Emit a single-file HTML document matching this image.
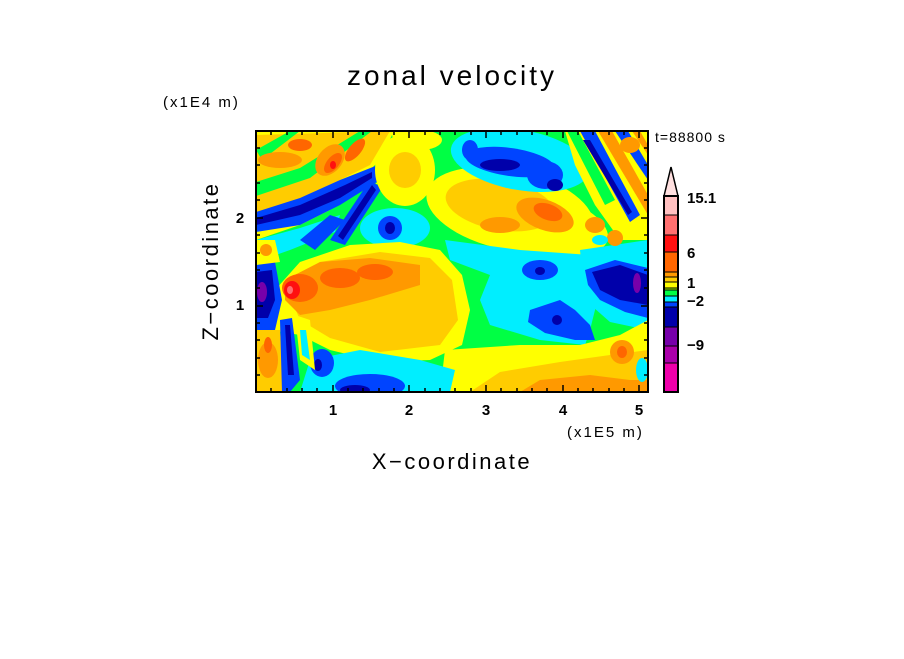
<!DOCTYPE html>
<html><head><style>
body{margin:0;background:#fff;width:904px;height:654px;overflow:hidden;font-family:"Liberation Sans",sans-serif}
</style></head><body>
<svg width="904" height="654" xmlns="http://www.w3.org/2000/svg" font-family="Liberation Sans, sans-serif">
<defs>
<clipPath id="c"><rect x="256" y="131" width="392" height="261"/></clipPath>
</defs>
<g clip-path="url(#c)">
<rect x="256" y="131" width="392" height="261" fill="#00ff44"/>
<!-- top-left warm band -->
<path d="M256 131 L420 131 L400 170 L350 200 L300 225 L256 240 Z" fill="#ffff00"/>
<path d="M256 135 L390 131 L370 165 L320 190 L270 210 L256 215 Z" fill="#ffcc00"/>
<path d="M256 182 L300 168 L360 131 L372 131 L310 178 L256 196 Z" fill="#00ff44"/>
<path d="M256 150 L290 131 L300 131 L262 160 Z" fill="#00ff44"/>
<path d="M330 210 L380 160 L392 135 L396 150 L385 175 L345 212 Z" fill="#00ff44"/>
<ellipse cx="280" cy="160" rx="22" ry="8" fill="#ff9900"/>
<ellipse cx="330" cy="160" rx="12" ry="18" transform="rotate(40 330 160)" fill="#ff9900"/>
<ellipse cx="333" cy="163" rx="6" ry="12" transform="rotate(40 333 163)" fill="#ff6600"/>
<ellipse cx="355" cy="150" rx="6" ry="14" transform="rotate(40 355 150)" fill="#ff6600"/>
<ellipse cx="300" cy="145" rx="12" ry="6" fill="#ff6600"/>
<ellipse cx="333" cy="165" rx="3" ry="4" fill="#ff1010"/>
<!-- diagonal blue bands top-left -->
<path d="M256 212 L300 198 L340 180 L378 165 L380 180 L340 205 L300 225 L256 232 Z" fill="#0044ff"/>
<path d="M256 218 L300 205 L345 185 L372 172 L372 178 L340 198 L300 215 L256 225 Z" fill="#0000aa"/>
<path d="M330 240 L370 180 L382 188 L345 245 Z" fill="#0044ff"/>
<path d="M338 236 L372 185 L376 190 L343 240 Z" fill="#0000aa"/>
<path d="M256 240 L300 228 L340 215 L335 232 L290 250 L256 262 Z" fill="#00eeff"/>
<path d="M300 240 L330 215 L345 220 L315 250 Z" fill="#0044ff"/>
<!-- cyan around blue dot -->
<ellipse cx="395" cy="228" rx="35" ry="20" fill="#00eeff"/>
<ellipse cx="390" cy="228" rx="12" ry="12" fill="#0044ff"/>
<ellipse cx="390" cy="228" rx="5" ry="6" fill="#0000aa"/>
<!-- top center yellow -->
<ellipse cx="405" cy="170" rx="30" ry="36" fill="#ffff00"/>
<ellipse cx="405" cy="170" rx="16" ry="18" fill="#ffcc00"/>
<ellipse cx="420" cy="140" rx="22" ry="10" fill="#ffff00"/>
<!-- right upper yellow band -->
<ellipse cx="510" cy="210" rx="85" ry="40" transform="rotate(12 510 210)" fill="#ffff00"/>
<ellipse cx="540" cy="222" rx="70" ry="30" transform="rotate(15 540 222)" fill="#ffff00"/>
<ellipse cx="500" cy="205" rx="55" ry="25" transform="rotate(10 500 205)" fill="#ffcc00"/>
<ellipse cx="545" cy="215" rx="30" ry="15" transform="rotate(20 545 215)" fill="#ff9900"/>
<ellipse cx="548" cy="212" rx="15" ry="8" transform="rotate(20 548 212)" fill="#ff6600"/>
<ellipse cx="500" cy="225" rx="20" ry="8" fill="#ff9900"/>
<!-- top cyan + blue -->
<ellipse cx="520" cy="160" rx="70" ry="30" transform="rotate(10 520 160)" fill="#00eeff"/>
<ellipse cx="510" cy="162" rx="45" ry="14" transform="rotate(8 510 162)" fill="#0044ff"/>
<ellipse cx="545" cy="175" rx="18" ry="14" fill="#0044ff"/>
<ellipse cx="555" cy="185" rx="8" ry="6" fill="#0000aa"/>
<ellipse cx="470" cy="150" rx="8" ry="10" fill="#0044ff"/>
<ellipse cx="500" cy="165" rx="20" ry="6" fill="#0000aa"/>
<!-- big warm blob -->
<path d="M275 290 L300 262 L350 245 L400 242 L440 250 L462 275 L470 310 L462 345 L430 360 L380 362 L330 350 L300 335 L270 330 Z" fill="#ffff00"/>
<path d="M285 285 L320 262 L380 252 L430 258 L452 280 L458 320 L440 345 L380 352 L330 338 L300 320 Z" fill="#ffcc00"/>
<path d="M285 280 L320 262 L370 258 L420 265 L420 285 L370 300 L330 310 L300 315 L285 300 Z" fill="#ff9900"/>
<ellipse cx="300" cy="288" rx="18" ry="14" fill="#ff6600"/>
<ellipse cx="340" cy="278" rx="20" ry="10" fill="#ff6600"/>
<ellipse cx="375" cy="272" rx="18" ry="8" fill="#ff6600"/>
<ellipse cx="292" cy="290" rx="8" ry="9" fill="#ff1010"/>
<ellipse cx="290" cy="290" rx="3" ry="4" fill="#ff7070"/>
<!-- cyan right middle -->
<path d="M445 240 L520 250 L590 255 L600 290 L590 330 L585 345 L540 340 L490 325 L480 300 L490 275 L450 260 Z" fill="#00eeff"/>
<path d="M580 250 L648 240 L648 330 L610 322 L585 300 Z" fill="#00eeff"/>
<ellipse cx="540" cy="270" rx="18" ry="10" fill="#0044ff"/>
<ellipse cx="540" cy="271" rx="5" ry="4" fill="#0000aa"/>
<path d="M530 310 L560 300 L575 310 L590 325 L595 340 L575 340 L545 333 L528 322 Z" fill="#0044ff"/>
<ellipse cx="557" cy="320" rx="5" ry="5" fill="#0000aa"/>
<path d="M585 270 L615 260 L648 268 L648 318 L625 312 L600 300 L588 285 Z" fill="#0044ff"/>
<path d="M592 272 L620 265 L648 275 L648 305 L620 300 L600 290 Z" fill="#0000aa"/>
<ellipse cx="637" cy="283" rx="4" ry="10" fill="#7700aa"/>
<!-- top-right stripes -->
<path d="M565 131 L648 131 L648 240 L620 240 L595 205 L575 165 Z" fill="#ffff00"/>
<path d="M567 131 L578 131 L615 200 L605 205 Z" fill="#00ff44"/>
<path d="M580 131 L595 131 L640 215 L630 222 Z" fill="#0044ff"/>
<path d="M583 140 L590 140 L632 212 L628 215 Z" fill="#0000aa"/>
<path d="M598 131 L612 131 L648 195 L648 215 Z" fill="#ff9900"/>
<path d="M615 131 L628 131 L648 165 L648 180 Z" fill="#0044ff"/>
<path d="M632 131 L640 131 L648 145 L648 155 Z" fill="#ff9900"/>
<ellipse cx="595" cy="225" rx="10" ry="8" fill="#ff9900"/>
<ellipse cx="615" cy="238" rx="8" ry="8" fill="#ff9900"/>
<ellipse cx="630" cy="145" rx="10" ry="8" fill="#ff9900"/>
<ellipse cx="600" cy="240" rx="8" ry="5" fill="#00eeff"/>
<!-- bottom-right yellow/orange -->
<path d="M440 392 L445 350 L520 345 L580 345 L620 335 L648 320 L648 392 Z" fill="#ffff00"/>
<path d="M470 392 L500 372 L560 362 L610 355 L648 350 L648 392 Z" fill="#ffcc00"/>
<path d="M520 392 L540 380 L590 375 L630 380 L648 380 L648 392 Z" fill="#ff9900"/>
<ellipse cx="622" cy="352" rx="12" ry="12" fill="#ff9900"/>
<ellipse cx="622" cy="352" rx="5" ry="6" fill="#ff6600"/>
<ellipse cx="642" cy="370" rx="6" ry="12" fill="#00eeff"/>
<!-- bottom-left cyan & blue -->
<path d="M300 392 L310 360 L360 350 L420 360 L455 370 L450 392 Z" fill="#00eeff"/>
<ellipse cx="370" cy="386" rx="35" ry="12" fill="#0044ff"/>
<ellipse cx="355" cy="390" rx="15" ry="5" fill="#0000aa"/>
<ellipse cx="322" cy="363" rx="12" ry="14" fill="#0044ff"/>
<ellipse cx="318" cy="365" rx="4" ry="6" fill="#0000aa"/>
<!-- left edge -->
<path d="M256 265 L275 262 L282 300 L275 330 L256 330 Z" fill="#0044ff"/>
<path d="M256 272 L272 270 L275 300 L268 318 L256 318 Z" fill="#0000aa"/>
<ellipse cx="262" cy="292" rx="5" ry="10" fill="#7700aa"/>
<path d="M256 330 L280 330 L285 392 L256 392 Z" fill="#ffcc00"/>
<ellipse cx="268" cy="360" rx="10" ry="18" fill="#ff9900"/>
<ellipse cx="268" cy="345" rx="4" ry="8" fill="#ff6600"/>
<path d="M280 320 L292 318 L300 380 L290 392 L282 392 Z" fill="#0044ff"/>
<path d="M285 325 L290 325 L294 375 L288 375 Z" fill="#0000aa"/>
<path d="M295 315 L310 320 L315 370 L300 360 Z" fill="#ffff00"/>
<path d="M300 330 L306 330 L310 360 L302 355 Z" fill="#00eeff"/>
<path d="M256 240 L275 240 L280 262 L256 265 Z" fill="#ffff00"/>
<ellipse cx="266" cy="250" rx="6" ry="6" fill="#ff9900"/>
</g>
<rect x="256" y="131" width="392" height="261" fill="none" stroke="#000" stroke-width="2"/>
<g stroke="#000" stroke-width="1.5">
<path d="M256 218h7M256 306h7M648 218h-7M648 306h-7"/>
<path d="M333 392v-7M409 392v-7M486 392v-7M563 392v-7M639 392v-7M333 131v7M409 131v7M486 131v7M563 131v7M639 131v7"/>
<path d="M256 148h4M256 165h4M256 183h4M256 200h4M256 235h4M256 253h4M256 270h4M256 288h4M256 323h4M256 340h4M256 358h4M256 375h4"/>
<path d="M648 148h-4M648 165h-4M648 183h-4M648 200h-4M648 235h-4M648 253h-4M648 270h-4M648 288h-4M648 323h-4M648 340h-4M648 358h-4M648 375h-4"/>
<path d="M271 392v-4M287 392v-4M302 392v-4M317 392v-4M348 392v-4M363 392v-4M379 392v-4M394 392v-4M425 392v-4M440 392v-4M455 392v-4M471 392v-4M501 392v-4M517 392v-4M532 392v-4M547 392v-4M578 392v-4M593 392v-4M609 392v-4M624 392v-4"/>
<path d="M271 131v4M287 131v4M302 131v4M317 131v4M348 131v4M363 131v4M379 131v4M394 131v4M425 131v4M440 131v4M455 131v4M471 131v4M501 131v4M517 131v4M532 131v4M547 131v4M578 131v4M593 131v4M609 131v4M624 131v4"/>
</g>
<g stroke="none">
<rect x="664" y="196" width="14" height="19" fill="#ffc0c0"/>
<rect x="664" y="215" width="14" height="20" fill="#ff7070"/>
<rect x="664" y="235" width="14" height="17" fill="#ff1010"/>
<rect x="664" y="252" width="14" height="20" fill="#ff6600"/>
<rect x="664" y="272" width="14" height="5" fill="#ff9900"/>
<rect x="664" y="277" width="14" height="5" fill="#ffcc00"/>
<rect x="664" y="282" width="14" height="6" fill="#ffff00"/>
<rect x="664" y="288" width="14" height="2" fill="#aaff00"/>
<rect x="664" y="290" width="14" height="6" fill="#00ff44"/>
<rect x="664" y="296" width="14" height="6" fill="#00eeff"/>
<rect x="664" y="302" width="14" height="5" fill="#0044ff"/>
<rect x="664" y="307" width="14" height="20" fill="#0000aa"/>
<rect x="664" y="327" width="14" height="19" fill="#7700aa"/>
<rect x="664" y="346" width="14" height="17" fill="#aa00aa"/>
<rect x="664" y="363" width="14" height="29" fill="#ee00aa"/>
</g>
<path d="M664 196 L671 167 L678 196 Z" fill="#ffe0e0" stroke="#000" stroke-width="1.5"/>
<rect x="664" y="196" width="14" height="196" fill="none" stroke="#000" stroke-width="2"/>
<path d="M664 215h14M664 235h14M664 252h14M664 272h14M664 277h14M664 282h14M664 288h14M664 290h14M664 296h14M664 302h14M664 307h14M664 327h14M664 346h14M664 363h14" stroke="#000" stroke-width="1"/>
<g font-size="15" fill="#000" font-weight="bold">
<text x="687" y="203">15.1</text>
<text x="687" y="258">6</text>
<text x="687" y="288">1</text>
<text x="687" y="306">−2</text>
<text x="687" y="350">−9</text>
</g>
<text x="655" y="142" font-size="14" letter-spacing="1">t=88800 s</text>
<text x="452" y="85" font-size="28" text-anchor="middle" letter-spacing="3">zonal velocity</text>
<text x="163" y="107" font-size="15" letter-spacing="2">(x1E4 m)</text>
<text x="567" y="437" font-size="15" letter-spacing="2">(x1E5 m)</text>
<g font-size="15" text-anchor="middle" font-weight="bold">
<text x="333" y="415">1</text><text x="409" y="415">2</text><text x="486" y="415">3</text><text x="563" y="415">4</text><text x="639" y="415">5</text>
<text x="240" y="223">2</text><text x="240" y="310">1</text>
</g>
<text x="452" y="469" font-size="22" text-anchor="middle" letter-spacing="2.5">X−coordinate</text>
<text x="0" y="0" font-size="22" text-anchor="middle" letter-spacing="2.5" transform="translate(218 261) rotate(-90)">Z−coordinate</text>
</svg>
</body></html>
